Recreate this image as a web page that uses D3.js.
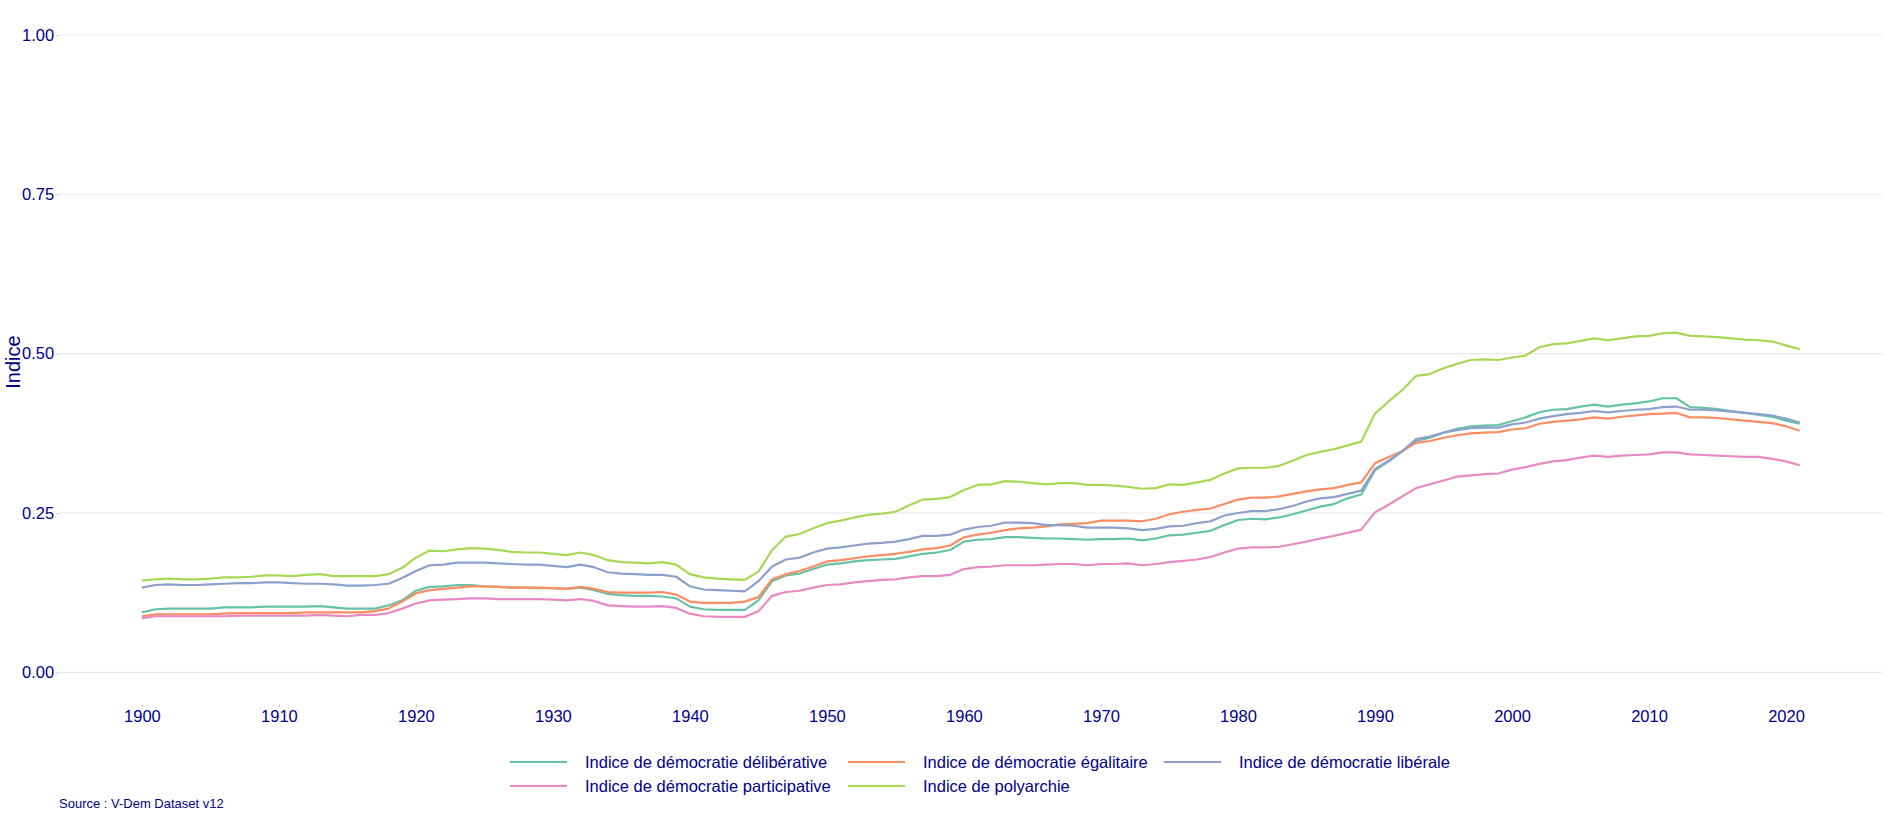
<!DOCTYPE html>
<html><head><meta charset="utf-8">
<script src="https://cdn.jsdelivr.net/npm/d3@7"></script>
<style>
html,body{margin:0;padding:0;background:#fff;}
svg{display:block;font-family:"Liberation Sans",Arial,sans-serif;}
</style></head><body>
<svg id="chart" width="1888" height="814"></svg>
<script>
const yearStart = 1900, yearEnd = 2021;
const years = d3.range(yearStart, yearEnd + 1);

const seriesNames = [
  "Indice de démocratie délibérative",
  "Indice de démocratie égalitaire",
  "Indice de démocratie libérale",
  "Indice de démocratie participative",
  "Indice de polyarchie"
];
const seriesColors = ["#66C2A5", "#FC8D62", "#8DA0CB", "#E78AC3", "#A6D854"];

const deliberative = [
0.094,0.099,0.100,0.100,0.100,0.100,0.102,0.102,0.102,0.103,
0.103,0.103,0.103,0.104,0.102,0.100,0.100,0.100,0.105,0.113,
0.128,0.134,0.135,0.137,0.137,0.135,0.134,0.133,0.133,0.132,
0.132,0.131,0.133,0.129,0.123,0.121,0.120,0.120,0.119,0.116,
0.103,0.099,0.098,0.098,0.098,0.113,0.143,0.152,0.155,0.162,
0.169,0.171,0.174,0.176,0.177,0.178,0.182,0.186,0.188,0.192,
0.205,0.208,0.209,0.212,0.212,0.211,0.210,0.210,0.209,0.208,
0.209,0.209,0.210,0.207,0.210,0.215,0.216,0.219,0.222,0.231,
0.239,0.241,0.240,0.243,0.248,0.254,0.260,0.264,0.273,0.279,
0.317,0.331,0.347,0.363,0.368,0.376,0.382,0.386,0.387,0.388,
0.394,0.400,0.408,0.412,0.413,0.417,0.420,0.417,0.420,0.422,
0.425,0.430,0.430,0.416,0.415,0.413,0.410,0.407,0.404,0.401,
0.395,0.390];

const egalitarian = [
0.088,0.091,0.091,0.091,0.091,0.091,0.092,0.093,0.093,0.093,
0.093,0.093,0.094,0.094,0.094,0.094,0.094,0.096,0.100,0.111,
0.124,0.129,0.131,0.133,0.135,0.135,0.134,0.133,0.133,0.133,
0.132,0.131,0.134,0.131,0.126,0.125,0.125,0.125,0.126,0.122,
0.111,0.109,0.109,0.109,0.111,0.118,0.146,0.154,0.159,0.166,
0.174,0.176,0.179,0.182,0.184,0.186,0.189,0.193,0.195,0.199,
0.212,0.216,0.219,0.223,0.226,0.227,0.229,0.232,0.233,0.234,
0.238,0.238,0.238,0.237,0.241,0.248,0.252,0.255,0.257,0.264,
0.271,0.274,0.274,0.276,0.280,0.284,0.287,0.289,0.294,0.298,
0.328,0.338,0.347,0.360,0.363,0.368,0.372,0.375,0.376,0.377,
0.381,0.383,0.390,0.393,0.395,0.397,0.400,0.398,0.401,0.403,
0.405,0.406,0.407,0.400,0.400,0.399,0.397,0.395,0.393,0.391,
0.386,0.379];

const liberal = [
0.133,0.137,0.138,0.137,0.137,0.138,0.139,0.140,0.140,0.141,
0.141,0.140,0.139,0.139,0.138,0.136,0.136,0.137,0.139,0.148,
0.159,0.168,0.169,0.172,0.172,0.172,0.171,0.170,0.169,0.169,
0.167,0.165,0.169,0.165,0.157,0.155,0.154,0.153,0.153,0.150,
0.135,0.130,0.129,0.128,0.127,0.143,0.166,0.177,0.180,0.188,
0.194,0.196,0.199,0.202,0.203,0.205,0.209,0.214,0.214,0.216,
0.224,0.228,0.230,0.235,0.235,0.234,0.231,0.231,0.230,0.227,
0.227,0.227,0.226,0.223,0.225,0.229,0.230,0.234,0.237,0.246,
0.250,0.253,0.253,0.256,0.261,0.268,0.273,0.275,0.280,0.285,
0.319,0.332,0.347,0.366,0.370,0.376,0.380,0.383,0.384,0.384,
0.389,0.392,0.398,0.402,0.405,0.407,0.410,0.408,0.410,0.412,
0.413,0.416,0.417,0.412,0.412,0.411,0.409,0.407,0.405,0.403,
0.398,0.392];

const participative = [
0.085,0.088,0.088,0.088,0.088,0.088,0.088,0.089,0.089,0.089,
0.089,0.089,0.089,0.090,0.089,0.088,0.090,0.090,0.093,0.100,
0.108,0.113,0.114,0.115,0.116,0.116,0.115,0.115,0.115,0.115,
0.114,0.113,0.115,0.112,0.105,0.104,0.103,0.103,0.104,0.101,
0.092,0.088,0.087,0.087,0.087,0.096,0.120,0.126,0.128,0.133,
0.137,0.138,0.141,0.143,0.145,0.146,0.149,0.151,0.151,0.153,
0.162,0.165,0.166,0.168,0.168,0.168,0.169,0.170,0.170,0.168,
0.170,0.170,0.171,0.168,0.170,0.173,0.175,0.177,0.181,0.188,
0.194,0.196,0.196,0.197,0.201,0.205,0.210,0.214,0.219,0.224,
0.251,0.263,0.276,0.289,0.295,0.301,0.307,0.309,0.311,0.312,
0.318,0.322,0.327,0.331,0.333,0.337,0.340,0.338,0.340,0.341,
0.342,0.345,0.345,0.342,0.341,0.340,0.339,0.338,0.338,0.335,
0.331,0.325];

const polyarchy = [
0.144,0.146,0.147,0.146,0.146,0.147,0.149,0.149,0.150,0.152,
0.152,0.151,0.153,0.154,0.151,0.151,0.151,0.151,0.154,0.164,
0.180,0.191,0.190,0.193,0.195,0.194,0.192,0.189,0.188,0.188,
0.186,0.184,0.188,0.184,0.176,0.173,0.172,0.171,0.173,0.169,
0.154,0.149,0.147,0.146,0.145,0.158,0.192,0.213,0.217,0.226,
0.234,0.238,0.243,0.247,0.249,0.252,0.262,0.271,0.272,0.275,
0.286,0.294,0.295,0.300,0.299,0.297,0.295,0.297,0.297,0.294,
0.294,0.293,0.291,0.288,0.289,0.295,0.294,0.298,0.302,0.312,
0.320,0.321,0.321,0.324,0.332,0.341,0.346,0.350,0.356,0.362,
0.406,0.425,0.443,0.465,0.468,0.477,0.484,0.490,0.491,0.490,
0.494,0.497,0.510,0.515,0.516,0.520,0.524,0.521,0.524,0.527,
0.528,0.532,0.533,0.528,0.527,0.526,0.524,0.522,0.521,0.519,
0.513,0.507];

const seriesValues = [deliberative, egalitarian, liberal, participative, polyarchy];
const yTicks = [0, 0.25, 0.5, 0.75, 1];
const xTicks = d3.range(1900, 2021, 10);
const yTitle = "Indice";
const caption = "Source : V-Dem Dataset v12";

const textColor = "#00008B";
const fontSize = 16.5;

const svg = d3.select("#chart");
const panel = {left: 59, right: 1882.6, top: 3.1, bottom: 704.2};

const xPad = (yearEnd - yearStart) * 0.05;
const x = d3.scaleLinear().domain([yearStart - xPad, yearEnd + xPad]).range([panel.left, panel.right]);
const y = d3.scaleLinear().domain([-0.05, 1.05]).range([panel.bottom, panel.top]);

// grid
svg.append("g").selectAll("line").data(yTicks).join("line")
  .attr("x1", panel.left).attr("x2", panel.right)
  .attr("y1", d => y(d)).attr("y2", d => y(d))
  .attr("stroke", "#E8E8E8").attr("stroke-width", 1.1);

// y axis
const yAxis = d3.axisLeft(y).tickValues(yTicks).tickFormat(d3.format(".2f")).tickSize(2.8).tickPadding(2);
const gy = svg.append("g").attr("transform", `translate(${panel.left},0)`).call(yAxis);
gy.select(".domain").remove();
gy.selectAll(".tick line").attr("stroke", "#CCCCCC");
gy.selectAll(".tick text").attr("fill", textColor).attr("font-size", fontSize)
  .attr("font-family", '"Liberation Sans",Arial,sans-serif');

// x axis
const xAxis = d3.axisBottom(x).tickValues(xTicks).tickFormat(d3.format("d")).tickSize(2.8).tickPadding(3);
const gx = svg.append("g").attr("transform", `translate(0,${panel.bottom})`).call(xAxis);
gx.select(".domain").remove();
gx.selectAll(".tick line").attr("stroke", "#CCCCCC");
gx.selectAll(".tick text").attr("fill", textColor).attr("font-size", fontSize)
  .attr("font-family", '"Liberation Sans",Arial,sans-serif');

// y title
svg.append("text")
  .attr("transform", `translate(20,362) rotate(-90)`)
  .attr("text-anchor", "middle").attr("fill", textColor).attr("font-size", 20)
  .text(yTitle);

// lines
const line = d3.line().x((d, i) => x(years[i])).y(d => y(d));
svg.append("g").selectAll("path").data(seriesValues).join("path")
  .attr("d", d => line(d))
  .attr("fill", "none")
  .attr("stroke", (d, i) => seriesColors[i])
  .attr("stroke-width", 2.2)
  .attr("stroke-linejoin", "round");

// legend
const colX = [510, 848, 1164];
const rowY = [762, 786];
const keyW = 57;
const leg = svg.append("g");
seriesNames.forEach((name, i) => {
  const cx = colX[i % 3], cy = rowY[Math.floor(i / 3)];
  leg.append("line").attr("x1", cx).attr("x2", cx + keyW).attr("y1", cy).attr("y2", cy)
    .attr("stroke", seriesColors[i]).attr("stroke-width", 2.2);
  leg.append("text").attr("x", cx + 75).attr("y", cy + 5.8)
    .attr("fill", textColor).attr("font-size", 16.5).text(name);
});

// caption
svg.append("text").attr("x", 59).attr("y", 808).attr("fill", textColor)
  .attr("font-size", 13).text(caption);
</script>
</body></html>
